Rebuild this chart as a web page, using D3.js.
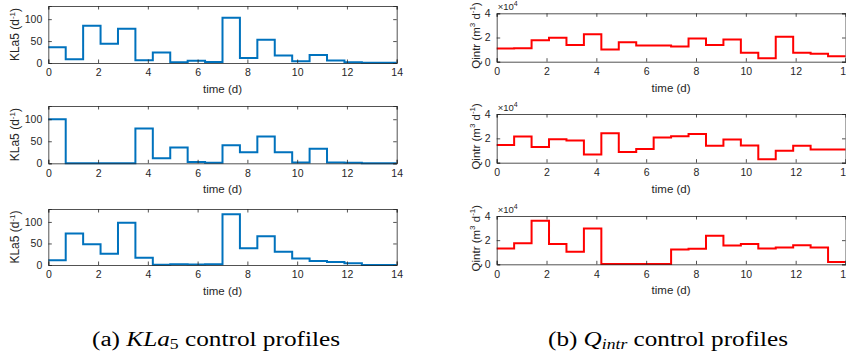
<!DOCTYPE html>
<html>
<head>
<meta charset="utf-8">
<script src="https://cdn.jsdelivr.net/npm/d3@7"></script>
<style>
  body { margin: 0; background: #fff; }
  svg { display: block; }
</style>
</head>
<body>
<script>
// control intervals: 20 steps of 0.7 d over 14 days
const tEdges = [0, 0.7, 1.4, 2.1, 2.8, 3.5, 4.2, 4.9, 5.6, 6.3, 7.0,
                7.7, 8.4, 9.1, 9.8, 10.5, 11.2, 11.9, 12.6, 13.3, 14];

// KLa5 profiles (d^-1)
const kla1 = [36, 8.5, 85, 44, 78, 6, 24, 1.5, 5, 2.5, 103, 11.5, 53, 17, 4, 18.5, 5.5, 1.5, 0.8, 0.5];
const kla2 = [100, 0, 0, 0, 0, 79, 11.5, 36, 3, 1, 41, 25, 61, 25, 2, 33, 2, 1.5, 0, 0];
const kla3 = [11, 73, 48, 26, 98, 17, 0.5, 1.5, 1, 1.5, 118, 39, 67, 31, 15, 9, 7, 4, 0, 0];

// Qintr profiles (x10^4 m^3 d^-1)
const q1 = [1.09, 1.11, 1.77, 1.97, 1.37, 2.26, 1.0, 1.6, 1.34, 1.34, 1.26, 1.91, 1.37, 1.83, 0.74, 0.29, 2.06, 0.74, 0.66, 0.46];
const q2 = [1.45, 2.16, 1.28, 1.93, 1.82, 0.68, 2.41, 0.88, 1.13, 2.07, 2.18, 2.35, 1.39, 1.9, 1.42, 0.28, 0.99, 1.39, 1.08, 1.08];
const q3 = [1.31, 1.75, 3.61, 1.69, 1.03, 2.97, 0.02, 0.02, 0.02, 0.02, 1.22, 1.28, 2.36, 1.56, 1.69, 1.31, 1.39, 1.58, 1.39, 0.19];

const xTicks = [0, 2, 4, 6, 8, 10, 12, 14];
const klaTicks = [0, 50, 100];
const qTicks = [0, 2, 4];

const W = 846, H = 358;
const axisColor = '#262626';
const font = 'Liberation Sans, Arial, sans-serif';

const svg = d3.select('body').append('svg')
    .attr('width', W)
    .attr('height', H);

const panels = [
  {data: kla1, x0: 48.3, x1: 396.7, top: 6, bottom: 63, ymax: 130, yt: klaTicks, color: '#0072BD', kind: 'kla'},
  {data: kla2, x0: 48.3, x1: 396.7, top: 106, bottom: 163.3, ymax: 130, yt: klaTicks, color: '#0072BD', kind: 'kla'},
  {data: kla3, x0: 48.3, x1: 396.7, top: 209, bottom: 265, ymax: 130, yt: klaTicks, color: '#0072BD', kind: 'kla'},
  {data: q1, x0: 496.7, x1: 845.5, top: 13.3, bottom: 61.7, ymax: 4, yt: qTicks, color: '#FF0000', kind: 'q'},
  {data: q2, x0: 496.7, x1: 845.5, top: 114, bottom: 162.7, ymax: 4, yt: qTicks, color: '#FF0000', kind: 'q'},
  {data: q3, x0: 496.7, x1: 845.5, top: 216, bottom: 264.3, ymax: 4, yt: qTicks, color: '#FF0000', kind: 'q'}
];

panels.forEach(p => {
  const x = d3.scaleLinear().domain([0, 14]).range([p.x0, p.x1]);
  const y = d3.scaleLinear().domain([0, p.ymax]).range([p.bottom, p.top]);
  const g = svg.append('g');

  // step line
  const pts = p.data.map((v, i) => [tEdges[i], v]);
  pts.push([14, p.data[p.data.length - 1]]);
  const line = d3.line()
      .x(d => x(d[0]))
      .y(d => y(d[1]))
      .curve(d3.curveStepAfter);
  g.append('path')
      .datum(pts)
      .attr('d', line)
      .attr('fill', 'none')
      .attr('stroke', p.color)
      .attr('stroke-width', 2);

  // axes (ticks inside, box on)
  const tk = 3.5;
  const fmt = d3.format('d');
  const bottomAx = d3.axisBottom(x).tickValues(xTicks).tickSize(-tk).tickPadding(6).tickFormat(fmt);
  const topAx = d3.axisTop(x).tickValues(xTicks).tickSize(-tk).tickFormat('');
  const leftAx = d3.axisLeft(y).tickValues(p.yt).tickSize(-tk).tickPadding(6).tickFormat(fmt);
  const rightAx = d3.axisRight(y).tickValues(p.yt).tickSize(-tk).tickFormat('');

  [[bottomAx, `translate(0,${p.bottom})`], [topAx, `translate(0,${p.top})`],
   [leftAx, `translate(${p.x0},0)`], [rightAx, `translate(${p.x1},0)`]].forEach(([ax, tr]) => {
    const a = g.append('g').attr('transform', tr).call(ax);
    a.select('.domain').attr('stroke', axisColor).attr('stroke-width', 0.8);
    a.selectAll('.tick line').attr('stroke', axisColor).attr('stroke-width', 0.8);
    a.selectAll('.tick text')
        .attr('fill', axisColor)
        .attr('font-family', font)
        .attr('font-size', 10.5);
  });

  // x label
  g.append('text')
      .attr('x', (p.x0 + p.x1) / 2)
      .attr('y', p.bottom + 30)
      .attr('text-anchor', 'middle')
      .attr('font-family', font)
      .attr('font-size', 11.5)
      .attr('fill', axisColor)
      .text('time (d)');

  // y label
  const cy = (p.top + p.bottom) / 2;
  if (p.kind === 'kla') {
    const t = g.append('text')
        .attr('transform', `translate(${p.x0 - 29},${cy}) rotate(-90)`)
        .attr('text-anchor', 'middle')
        .attr('font-family', font)
        .attr('font-size', 12)
        .attr('fill', axisColor);
    t.append('tspan').text('KLa5 (d');
    t.append('tspan').attr('dy', -4.5).attr('font-size', 8).text('-1');
    t.append('tspan').attr('dy', 4.5).text(')');
  } else {
    const t = g.append('text')
        .attr('transform', `translate(${p.x0 - 17},${cy - 2}) rotate(-90)`)
        .attr('text-anchor', 'middle')
        .attr('font-family', font)
        .attr('font-size', 11.5)
        .attr('fill', axisColor);
    t.append('tspan').text('Qintr (m');
    t.append('tspan').attr('dy', -4.5).attr('font-size', 8).text('3');
    t.append('tspan').attr('dy', 4.5).text(' d');
    t.append('tspan').attr('dy', -4.5).attr('font-size', 8).text('-1');
    t.append('tspan').attr('dy', 4.5).text(')');

    // exponent label
    const e = g.append('text')
        .attr('x', p.x0 + 1)
        .attr('y', p.top - 3)
        .attr('font-family', font)
        .attr('font-size', 9.5)
        .attr('fill', axisColor);
    e.append('tspan').text('\u00d710');
    e.append('tspan').attr('dy', -4).attr('font-size', 7).text('4');
  }
});

// captions
const capFont = 'Liberation Serif, DejaVu Serif, serif';
const capA = svg.append('text')
    .attr('x', 92).attr('y', 346)
    .attr('font-family', capFont)
    .attr('font-size', 20)
    .attr('textLength', 248)
    .attr('lengthAdjust', 'spacingAndGlyphs')
    .attr('fill', '#000');
capA.append('tspan').text('(a) ');
capA.append('tspan').attr('font-style', 'italic').text('KLa');
capA.append('tspan').attr('dy', 3).attr('font-size', 14).text('5');
capA.append('tspan').attr('dy', -3).text(' control profiles');

const capB = svg.append('text')
    .attr('x', 548).attr('y', 346)
    .attr('font-family', capFont)
    .attr('font-size', 20)
    .attr('textLength', 240)
    .attr('lengthAdjust', 'spacingAndGlyphs')
    .attr('fill', '#000');
capB.append('tspan').text('(b) ');
capB.append('tspan').attr('font-style', 'italic').text('Q');
capB.append('tspan').attr('dy', 3).attr('font-size', 14).attr('font-style', 'italic').text('intr');
capB.append('tspan').attr('dy', -3).text(' control profiles');
</script>
</body>
</html>
